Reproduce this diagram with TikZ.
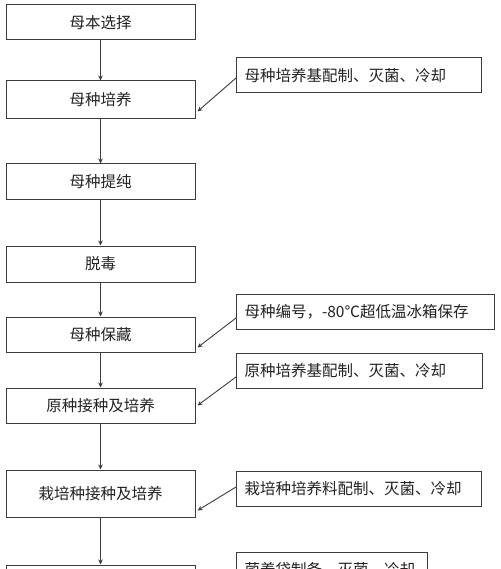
\documentclass[tikz,border=0pt]{standalone}
\usepackage{fontspec}
\setmainfont{Noto Sans CJK SC}
\usepackage{xcolor}
\usetikzlibrary{arrows.meta}
\definecolor{lineg}{HTML}{3C3C3C}
\definecolor{textk}{HTML}{222222}

\begin{document}
\begin{tikzpicture}[
  x=1pt,y=-1pt,
  >={Stealth[length=5pt,width=4.5pt]},
  stage/.style={draw=lineg,line width=1pt,minimum width=189pt,
    minimum height=35pt,inner sep=0pt},
  prep/.style={draw=lineg,line width=1pt,anchor=west,minimum height=35pt,
    inner xsep=8pt,inner ysep=0pt,align=left},
  link/.style={lineg,line width=.9pt,->},
  every node/.style={font=\fontsize{15.5}{18}\selectfont,text=textk}
]
  \clip (0,0) rectangle (500,569);
  % main line
  \node[stage] (select) at (100.5,22.5) {母本选择};
  \node[stage,minimum height=38pt] (mcult) at (100.5,100) {母种培养};
  \node[stage] (mpure) at (100.5,181.5) {母种提纯};
  \node[stage,minimum height=36pt] (detox) at (100.5,264) {脱毒};
  \node[stage] (mstore) at (100.5,334.5) {母种保藏};
  \node[stage] (yinoc) at (100.5,405.5) {原种接种及培养};
  \node[stage,minimum height=47pt] (zinoc) at (100.5,493.5) {栽培种接种及培养};
  \node[stage] (bag) at (100.5,582.5) {};
  \foreach \a/\b in {select/mcult,mcult/mpure,mpure/detox,detox/mstore,
    mstore/yinoc,yinoc/zinoc,zinoc/bag}
    \draw[link] (\a) -- (\b);
  % side steps
  \node[prep,text width=229pt] (mmedia) at (236,75.5) {母种培养基配制、灭菌、冷却};
  \node[prep,text width=242pt] (mkeep) at (236,311.5) {母种编号，-80℃超低温冰箱保存};
  \node[prep,text width=230pt] (ymedia) at (236,370.5) {原种培养基配制、灭菌、冷却};
  \node[prep,text width=229pt] (zmedia) at (236,488.5) {栽培种培养料配制、灭菌、冷却};
  \node[prep,text width=175pt] (bmedia) at (236,569.5) {菌养袋制备、灭菌、冷却};
  \draw[link] ([yshift=-2.5pt]mmedia.west) -- ([xshift=2pt,yshift=8pt]mcult.south east);
  \draw[link] ([yshift=-6.5pt]mkeep.west) -- ([xshift=2pt,yshift=5pt]mstore.south east);
  \draw[link] ([yshift=-6.5pt]ymedia.west) -- ([xshift=2pt,yshift=18pt]yinoc.south east);
  \draw[link] ([yshift=1.5pt]zmedia.west) -- ([xshift=2pt,yshift=7pt]zinoc.south east);
  \draw[link] ([yshift=-3pt]bmedia.west) -- ([xshift=2pt,yshift=8pt]bag.south east);
\end{tikzpicture}
\end{document}
